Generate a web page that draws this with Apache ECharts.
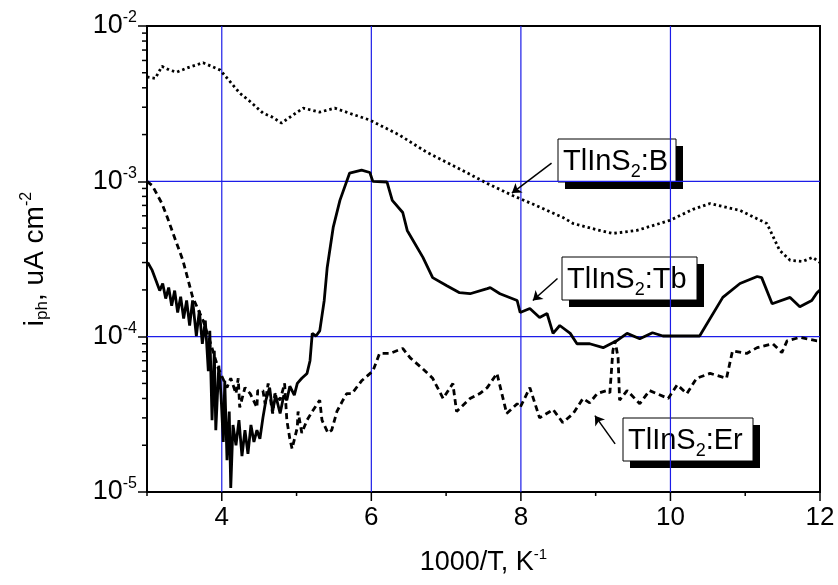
<!DOCTYPE html>
<html>
<head>
<meta charset="utf-8">
<script src="https://cdn.jsdelivr.net/npm/echarts@6/dist/echarts.min.js"></script>
<style>
  html, body { margin: 0; padding: 0; background: #fff; }
</style>
</head>
<body>
<div id="chart" style="width: 838px; height: 585px"></div>
<script>
// 1000/T (K^-1) vs photocurrent
const seriesB = [
  [3.0, 4.7e-3], [3.11, 4.6e-3], [3.2, 5.5e-3], [3.3, 5.2e-3], [3.4, 5.05e-3], [3.55, 5.4e-3],
  [3.75, 5.8e-3], [3.98, 5.2e-3], [4.24, 3.7e-3], [4.4, 3.2e-3], [4.55, 2.75e-3], [4.67, 2.6e-3],
  [4.8, 2.37e-3], [4.94, 2.65e-3], [5.09, 2.96e-3], [5.31, 2.79e-3], [5.51, 2.96e-3],
  [5.75, 2.7e-3], [5.98, 2.48e-3], [6.38, 1.98e-3], [6.74, 1.54e-3], [7.14, 1.23e-3],
  [7.55, 9.7e-4], [7.89, 8.1e-4], [8.2, 7.0e-4], [8.56, 5.86e-4], [8.7, 5.35e-4],
  [9.0, 4.9e-4], [9.23, 4.62e-4], [9.55, 4.83e-4], [9.99, 5.6e-4], [10.3, 6.6e-4],
  [10.53, 7.2e-4], [10.93, 6.5e-4], [11.29, 5.35e-4], [11.46, 3.6e-4], [11.6, 3.1e-4],
  [11.77, 3.05e-4], [11.9, 3.24e-4], [12.0, 3.0e-4]
];
const seriesTb = [
  [3.01, 3.0e-4], [3.07, 2.67e-4], [3.12, 2.3e-4], [3.17, 1.98e-4], [3.21, 2.2e-4], [3.25, 1.76e-4],
  [3.29, 2.07e-4], [3.33, 1.58e-4], [3.37, 1.98e-4], [3.41, 1.43e-4], [3.45, 1.81e-4], [3.49, 1.31e-4],
  [3.53, 1.71e-4], [3.57, 1.18e-4], [3.61, 1.71e-4], [3.66, 1.01e-4], [3.7, 1.47e-4], [3.74, 9.0e-5],
  [3.78, 1.27e-4], [3.82, 6.0e-5], [3.84, 1.09e-4], [3.87, 2.9e-5], [3.9, 8.1e-5], [3.92, 2.5e-5],
  [3.96, 6.5e-5], [3.99, 4.2e-5], [4.02, 2.1e-5], [4.04, 5.2e-5], [4.07, 1.6e-5], [4.1, 3.3e-5],
  [4.12, 1.06e-5], [4.15, 2.7e-5], [4.19, 2.0e-5], [4.23, 2.9e-5], [4.27, 1.7e-5], [4.31, 2.5e-5],
  [4.35, 1.76e-5], [4.39, 2.7e-5], [4.43, 2.1e-5], [4.47, 2.5e-5], [4.51, 2.2e-5], [4.55, 3.0e-5],
  [4.59, 3.9e-5], [4.64, 4.7e-5], [4.68, 3.3e-5], [4.72, 4.2e-5], [4.78, 3.2e-5], [4.83, 4.2e-5],
  [4.87, 3.9e-5], [4.91, 4.8e-5], [4.97, 4.2e-5], [5.01, 5.0e-5], [5.07, 5.4e-5], [5.14, 5.8e-5],
  [5.18, 7.0e-5], [5.21, 1.05e-4], [5.26, 1.01e-4], [5.31, 1.09e-4], [5.37, 1.71e-4], [5.41, 2.79e-4],
  [5.49, 5.05e-4], [5.58, 7.54e-4], [5.71, 1.13e-3], [5.87, 1.18e-3], [5.98, 1.14e-3], [6.02, 1.0e-3],
  [6.21, 9.9e-4], [6.28, 7.54e-4], [6.42, 6.3e-4], [6.48, 4.83e-4], [6.69, 3.24e-4], [6.82, 2.4e-4],
  [7.01, 2.13e-4], [7.18, 1.92e-4], [7.32, 1.89e-4], [7.55, 2.04e-4], [7.59, 2.07e-4], [7.72, 1.89e-4],
  [7.95, 1.71e-4], [7.99, 1.43e-4], [8.12, 1.52e-4], [8.25, 1.33e-4], [8.35, 1.41e-4], [8.43, 1.05e-4],
  [8.52, 1.18e-4], [8.66, 1.05e-4], [8.75, 9.0e-5], [8.92, 9.0e-5], [9.1, 8.5e-5], [9.28, 9.4e-5],
  [9.42, 1.05e-4], [9.59, 9.7e-5], [9.76, 1.06e-4], [9.9, 1.01e-4], [10.39, 1.01e-4], [10.7, 1.79e-4],
  [10.93, 2.2e-4], [11.16, 2.44e-4], [11.22, 2.4e-4], [11.36, 1.63e-4], [11.6, 1.79e-4], [11.73, 1.56e-4],
  [11.89, 1.71e-4], [11.96, 1.92e-4], [12.0, 2.0e-4]
];
const seriesEr = [
  [3.0, 1.0e-3], [3.07, 9.4e-4], [3.2, 7.2e-4], [3.27, 5.9e-4], [3.35, 4.6e-4], [3.48, 3.1e-4],
  [3.61, 1.8e-4], [3.75, 1.27e-4], [3.84, 9.4e-5], [3.95, 6.3e-5], [4.07, 4.7e-5], [4.12, 5.4e-5],
  [4.19, 4.3e-5], [4.22, 5.4e-5], [4.24, 3.5e-5], [4.31, 4.7e-5], [4.38, 4.3e-5], [4.47, 3.5e-5],
  [4.48, 4.5e-5], [4.55, 4.5e-5], [4.58, 3.7e-5], [4.62, 5.0e-5], [4.68, 3.2e-5], [4.71, 4.3e-5],
  [4.78, 3.9e-5], [4.84, 5.0e-5], [4.87, 2.9e-5], [4.91, 2.2e-5], [4.94, 1.9e-5], [5.01, 2.6e-5],
  [5.02, 3.3e-5], [5.07, 2.4e-5], [5.14, 2.9e-5], [5.21, 3.3e-5], [5.31, 3.9e-5], [5.34, 2.9e-5],
  [5.42, 2.4e-5], [5.47, 2.5e-5], [5.54, 3.3e-5], [5.62, 3.9e-5], [5.67, 4.3e-5], [5.74, 4.3e-5],
  [5.87, 5.2e-5], [6.02, 6.0e-5], [6.11, 7.8e-5], [6.25, 7.8e-5], [6.42, 8.4e-5], [6.52, 7.3e-5],
  [6.69, 6.2e-5], [6.82, 5.4e-5], [6.96, 4.0e-5], [7.09, 5.0e-5], [7.14, 3.3e-5], [7.32, 4.0e-5],
  [7.45, 4.3e-5], [7.55, 4.7e-5], [7.68, 5.8e-5], [7.81, 3.2e-5], [7.95, 3.7e-5], [7.99, 3.5e-5],
  [8.12, 4.7e-5], [8.25, 3.0e-5], [8.39, 3.3e-5], [8.43, 3.4e-5], [8.56, 2.8e-5], [8.7, 3.2e-5],
  [8.83, 4.0e-5], [8.92, 3.75e-5], [9.02, 4.3e-5], [9.15, 4.5e-5], [9.19, 4.35e-5], [9.23, 8.1e-5],
  [9.26, 9.4e-5], [9.3, 7.3e-5], [9.32, 3.9e-5], [9.42, 4.5e-5], [9.59, 3.7e-5], [9.72, 4.5e-5],
  [9.97, 4.0e-5], [10.09, 4.9e-5], [10.22, 4.3e-5], [10.35, 5.4e-5], [10.53, 5.8e-5], [10.75, 5.4e-5],
  [10.83, 8.1e-5], [11.02, 7.8e-5], [11.16, 8.5e-5], [11.37, 9.0e-5], [11.49, 7.9e-5], [11.56, 9.4e-5],
  [11.73, 9.9e-5], [11.96, 9.4e-5], [12.0, 9.4e-5]
];

const xMajorTicks = [4, 6, 8, 10, 12];
const xMinorTicks = [3, 5, 7, 9, 11];
const yMinorTicks = [
  2e-5, 3e-5, 4e-5, 5e-5, 6e-5, 7e-5, 8e-5, 9e-5,
  2e-4, 3e-4, 4e-4, 5e-4, 6e-4, 7e-4, 8e-4, 9e-4,
  2e-3, 3e-3, 4e-3, 5e-3, 6e-3, 7e-3, 8e-3, 9e-3
];
const gridX = [4, 6, 8, 10];
const gridY = [1e-3, 1e-4];

// label arrows: [from, to] in data units
const arrows = [
  [[8.41, 1.31e-3], [7.88, 8.4e-4]],
  [[8.49, 2.37e-4], [8.16, 1.71e-4]],
  [[9.26, 2.04e-5], [8.99, 3.1e-5]]
];

const FONT = "Liberation Sans, Arial, sans-serif";
const X_MIN = 3, X_MAX = 12, Y_MIN = 1e-5, Y_MAX = 1e-2;

function tickSeries(data, axis, len) {
  return {
    type: "custom",
    silent: true,
    z: 5,
    clip: false,
    data: data,
    renderItem: function (params, api) {
      const p = api.coord([api.value(0), api.value(1)]);
      const shape = axis === "x"
        ? { x1: p[0], y1: p[1], x2: p[0], y2: p[1] + len }
        : { x1: p[0], y1: p[1], x2: p[0] - len, y2: p[1] };
      return { type: "line", shape: shape, style: { stroke: "#000", lineWidth: 1.5 } };
    }
  };
}

// blue grid lines; value 0 is x (or null), value 1 is y (or null)
function gridSeries() {
  const data = gridX.map(function (x) { return [x, Y_MIN, 0]; })
    .concat(gridY.map(function (y) { return [X_MIN, y, 1]; }));
  return {
    type: "custom",
    silent: true,
    z: 1,
    data: data,
    renderItem: function (params, api) {
      const horiz = api.value(2) === 1;
      const a = horiz ? api.coord([X_MIN, api.value(1)]) : api.coord([api.value(0), Y_MIN]);
      const b = horiz ? api.coord([X_MAX, api.value(1)]) : api.coord([api.value(0), Y_MAX]);
      return {
        type: "line",
        shape: { x1: a[0], y1: a[1], x2: b[0], y2: b[1] },
        style: { stroke: "#1c1ce8", lineWidth: 1.2 }
      };
    }
  };
}

function tagBox(x, y, w, h, dopant) {
  return {
    type: "group",
    children: [
      { type: "rect", shape: { x: x + 7, y: y + 7, width: w, height: h }, style: { fill: "#000" } },
      { type: "rect", shape: { x: x, y: y, width: w, height: h }, style: { fill: "#fff", stroke: "#000", lineWidth: 1 } },
      {
        type: "text",
        x: x + 5,
        y: y + h / 2 + 1,
        style: {
          text: "{a|TlInS}{s|2}{a|:" + dopant + "}",
          verticalAlign: "middle",
          rich: {
            a: { fontSize: 29, fontFamily: FONT, lineHeight: 40, fill: "#000" },
            s: { fontSize: 18, fontFamily: FONT, lineHeight: 14, verticalAlign: "bottom", fill: "#000" }
          }
        }
      }
    ]
  };
}

const myChart = echarts.init(document.getElementById("chart"));

const option = {
  animation: false,
  backgroundColor: "#fff",
  grid: {
    left: 147,
    right: 18,
    top: 26,
    bottom: 93,
    show: true,
    borderColor: "#000",
    borderWidth: 2
  },
  xAxis: {
    type: "value",
    min: X_MIN,
    max: X_MAX,
    interval: 1,
    axisLine: { lineStyle: { color: "#000", width: 2 } },
    axisTick: { show: false },
    splitLine: { show: false },
    axisLabel: {
      color: "#000",
      fontSize: 26,
      fontFamily: FONT,
      margin: 13,
      formatter: function (v) { return v % 2 === 0 ? String(v) : ""; }
    },
    name: "{a|1000/T, K}{p|-1}",
    nameLocation: "middle",
    nameGap: 55,
    nameTextStyle: {
      rich: {
        a: { fontSize: 27, fontFamily: FONT, color: "#000", lineHeight: 32 },
        p: { fontSize: 15, fontFamily: FONT, color: "#000", lineHeight: 15, verticalAlign: "top" }
      }
    }
  },
  yAxis: {
    type: "log",
    logBase: 10,
    min: Y_MIN,
    max: Y_MAX,
    axisLine: { show: true, lineStyle: { color: "#000", width: 2 } },
    axisTick: { show: true, length: 9, lineStyle: { color: "#000", width: 1.5 } },
    splitLine: { show: false },
    axisLabel: {
      margin: 10,
      formatter: function (v) {
        const e = Math.round(Math.log10(v));
        return "{b|10}{p|" + e + "}";
      },
      rich: {
        b: { fontSize: 27, fontFamily: FONT, color: "#000", lineHeight: 32 },
        p: { fontSize: 16, fontFamily: FONT, color: "#000", lineHeight: 16, verticalAlign: "top" }
      }
    },
    name: "{a|i}{s|ph}{a|, uA cm}{p|-2}",
    nameLocation: "middle",
    nameRotate: 90,
    nameGap: 96,
    nameTextStyle: {
      rich: {
        a: { fontSize: 28, fontFamily: FONT, color: "#000", lineHeight: 32 },
        s: { fontSize: 17, fontFamily: FONT, color: "#000", lineHeight: 12, verticalAlign: "bottom" },
        p: { fontSize: 16, fontFamily: FONT, color: "#000", lineHeight: 16, verticalAlign: "top" }
      }
    }
  },
  series: [
    gridSeries(),
    {
      name: "TlInS2:B",
      type: "line",
      data: seriesB,
      showSymbol: false,
      z: 3,
      lineStyle: { color: "#000", width: 2.8, type: [2.5, 3] }
    },
    {
      name: "TlInS2:Tb",
      type: "line",
      data: seriesTb,
      showSymbol: false,
      z: 3,
      lineStyle: { color: "#000", width: 2.8 }
    },
    {
      name: "TlInS2:Er",
      type: "line",
      data: seriesEr,
      showSymbol: false,
      z: 3,
      lineStyle: { color: "#000", width: 2.8, type: [6, 4] }
    },
    {
      name: "arrows",
      type: "line",
      data: [],
      z: 4,
      markLine: {
        silent: true,
        symbol: ["none", "arrow"],
        symbolSize: 9,
        label: { show: false },
        lineStyle: { color: "#000", width: 1.5, type: "solid" },
        data: arrows.map(function (a) { return [{ coord: a[0] }, { coord: a[1] }]; })
      }
    },
    tickSeries(xMajorTicks.map(function (x) { return [x, Y_MIN]; }), "x", 9),
    tickSeries(xMinorTicks.map(function (x) { return [x, Y_MIN]; }), "x", 4),
    tickSeries(yMinorTicks.map(function (y) { return [X_MIN, y]; }), "y", 5)
  ],
  graphic: [
    tagBox(558, 139, 118, 43, "B"),
    tagBox(562, 257, 135, 43, "Tb"),
    tagBox(623, 418, 130, 43, "Er")
  ]
};

myChart.setOption(option);
</script>
</body>
</html>
